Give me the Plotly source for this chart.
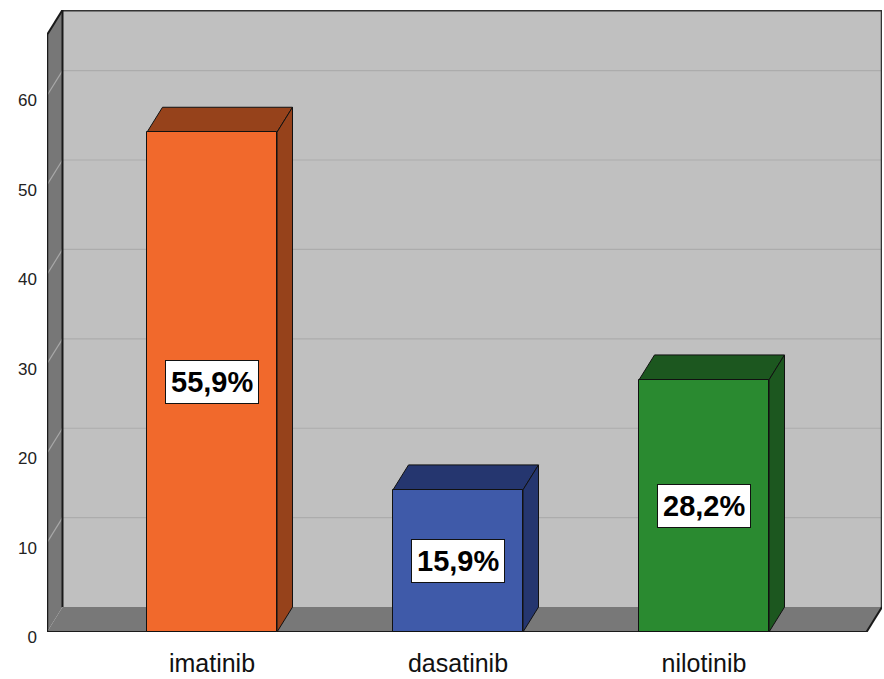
import plotly.graph_objects as go

# Data
categories = ["imatinib", "dasatinib", "nilotinib"]
values = [55.9, 15.9, 28.2]
front_colors = ["#f1692c", "#3f5aa9", "#2a8a30"]
shade_colors = ["#96421b", "#25366f", "#1c571f"]
y_ticks = [0, 10, 20, 30, 40, 50, 60]

# Geometry of the pseudo-3D box (axis units)
W, H = 884, 679
margin = dict(l=47, r=2, t=10, b=45)
plot_w = W - margin["l"] - margin["r"]
plot_h = H - margin["t"] - margin["b"]
y_px = 8.97                      # pixels per y unit
x_px = 246.0                     # pixels per category step
y_top = plot_h / y_px
x_left = -165.0 / x_px
x_right = x_left + plot_w / x_px
dx = 15.5 / x_px                 # depth offset, x direction
dy = 25.0 / y_px                 # depth offset, y direction
bar_w = 130.0 / x_px

FONT = "Liberation Sans, Arial, sans-serif"

fig = go.Figure()

shapes = []


def poly(pts, fill, line_color=None, lw=0):
    path = "M " + " L ".join(f"{x},{y}" for x, y in pts) + " Z"
    return dict(type="path", path=path, xref="x", yref="y", fillcolor=fill,
                line=dict(color=line_color or fill, width=lw), layer="below")


def seg(x0, y0, x1, y1, color, lw=1):
    return dict(type="line", x0=x0, y0=y0, x1=x1, y1=y1, xref="x", yref="y",
                line=dict(color=color, width=lw), layer="below")


# back wall
shapes.append(poly([(x_left + dx, dy), (x_right, dy), (x_right, y_top), (x_left + dx, y_top)], "#c0c0c0"))
# left wall
shapes.append(poly([(x_left, 0), (x_left + dx, dy), (x_left + dx, y_top), (x_left, y_top - dy)], "#777777"))
# floor
shapes.append(poly([(x_left, 0), (x_right - dx, 0), (x_right, dy), (x_left + dx, dy)], "#787878"))

# grid lines on the back wall and the left wall
for t in y_ticks[1:]:
    shapes.append(seg(x_left + dx, t + dy, x_right, t + dy, "#acacac", 1.2))
    shapes.append(seg(x_left, t, x_left + dx, t + dy, "#a8a8a8", 1.2))

# box edges
edge = "#1a1a1a"
shapes.append(seg(x_left, 0, x_left, y_top - dy, edge, 2.5))
shapes.append(seg(x_left, y_top - dy, x_left + dx, y_top, edge, 2))
shapes.append(seg(x_left + dx, y_top, x_right, y_top, "#333333", 3))
shapes.append(seg(x_right, y_top, x_right, dy, "#333333", 2.5))
shapes.append(seg(x_right, dy, x_right - dx, 0, edge, 2))
shapes.append(seg(x_left, 0, x_right - dx, 0, edge, 2))
shapes.append(seg(x_left + dx, dy, x_left + dx, y_top, edge, 2))

# top and side faces of each bar
for i, v in enumerate(values):
    x0 = i - bar_w / 2
    x1 = i + bar_w / 2
    shapes.append(poly([(x0, v), (x0 + dx, v + dy), (x1 + dx, v + dy), (x1, v)],
                       shade_colors[i], "#111111", 1))
    shapes.append(poly([(x1, 0), (x1 + dx, dy), (x1 + dx, v + dy), (x1, v)],
                       shade_colors[i], "#111111", 1))

# front faces
fig.add_trace(go.Bar(
    x=list(range(len(categories))), y=values, width=bar_w,
    marker=dict(color=front_colors, line=dict(color="#111111", width=1)),
    hoverinfo="skip", showlegend=False,
))

annotations = []
for i, v in enumerate(values):
    annotations.append(dict(
        x=i, y=v / 2, xref="x", yref="y", showarrow=False,
        text=f"<b>{v:.1f}%</b>".replace(".", ","),
        font=dict(family=FONT, size=29, color="#000000"),
        bgcolor="#ffffff", bordercolor="#111111", borderwidth=1, borderpad=5,
    ))

fig.update_layout(
    width=W, height=H, autosize=False,
    margin=margin,
    paper_bgcolor="#ffffff", plot_bgcolor="#ffffff",
    shapes=shapes, annotations=annotations,
    bargap=0,
    xaxis=dict(
        range=[x_left, x_right], showgrid=False, zeroline=False, showline=False,
        tickmode="array", tickvals=list(range(len(categories))), ticktext=categories,
        tickfont=dict(family=FONT, size=25, color="#111111"),
        ticks="", ticklabelstandoff=14, fixedrange=True,
    ),
    yaxis=dict(
        range=[0, y_top], showgrid=False, zeroline=False, showline=False,
        tickmode="array", tickvals=y_ticks, ticktext=[str(t) for t in y_ticks],
        tickfont=dict(family=FONT, size=17, color="#222222"),
        ticks="", ticklabelstandoff=9, ticklabelshift=5, fixedrange=True,
    ),
)

fig.write_html("out.html")
